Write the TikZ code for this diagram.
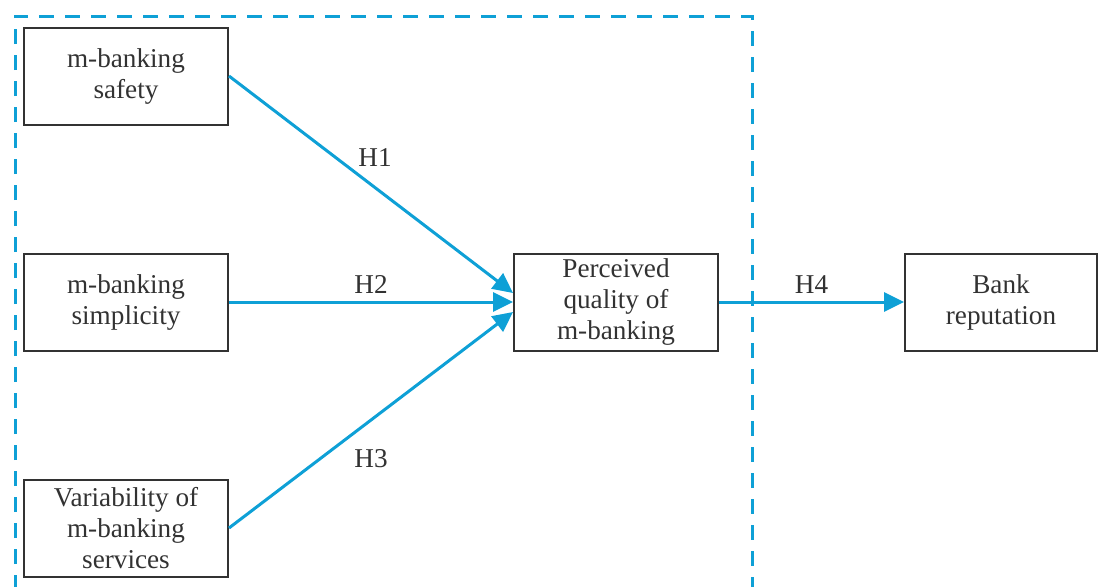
\documentclass[tikz,border=0pt]{standalone}
\usepackage{fontspec}
\setmainfont{Liberation Serif}
\usetikzlibrary{arrows.meta}

\definecolor{linkblue}{RGB}{14,160,214}
\definecolor{boxgray}{RGB}{50,50,50}

\begin{document}
\begin{tikzpicture}[x=0.5pt,y=0.5pt,
	box/.style={shape=rectangle,draw=boxgray,line width=1pt,text=boxgray,
		minimum width=102pt,minimum height=48.5pt,inner ysep=1.5pt,align=center,
		font=\fontsize{13.6}{15.5}\selectfont},
	conn/.style={color=linkblue,line width=1.5pt,
		-{Triangle[length=10pt,width=9.5pt]}},
	lbl/.style={text=boxgray,font=\fontsize{13.6}{15.5}\selectfont}]

		\useasboundingbox (0,0) rectangle (1098,-586);

		% dashed frame (bottom side cut off)
		\draw[linkblue,line width=1.5pt,dash pattern=on 7.5pt off 5.5pt]
			(15,-590) -- (15,-16) -- (752,-16) -- (752,-590);

		\node[box] (safe) at (126, -76)     {m-banking\\safety};
		\node[box] (simp) at (126, -302)    {m-banking\\simplicity};
		\node[box] (vari) at (126, -528)    {Variability of\\m-banking\\services};
		\node[box] (perc) at (616, -302)    {Perceived\\quality of\\m-banking};
		\node[box,minimum width=96pt] (rep) at (1001, -302) {Bank\\reputation};

		\path[conn] (safe.east) edge  node[lbl,above=5pt,xshift=2pt] {H1} ([yshift=4.5pt]perc.west);
		\path[conn] (simp.east) edge  node[lbl,above]   {H2} (perc.west);
		\path[conn] (vari.east) edge  node[lbl,below=10.5pt] {H3} ([yshift=-5pt]perc.west);
		\path[conn] (perc.east) edge  node[lbl,above]   {H4} (rep.west);
		\end{tikzpicture}
\end{document}
